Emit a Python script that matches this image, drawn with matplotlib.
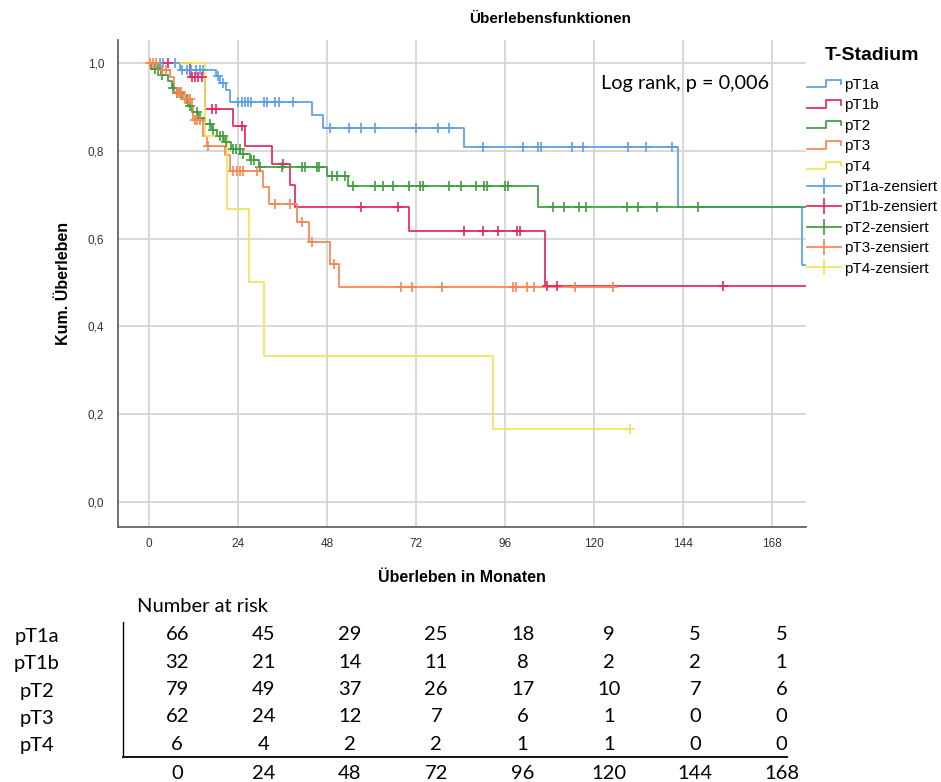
import matplotlib
matplotlib.use("Agg")
import matplotlib.pyplot as plt
from matplotlib.lines import Line2D
from matplotlib.legend_handler import HandlerBase
import numpy as np

# ---------------- survival data (months, cumulative survival) ----------------
groups = ["pT1a", "pT1b", "pT2", "pT3", "pT4"]
colors = ["#5b9ee8", "#e2285f", "#3f9d3f", "#fa8450", "#eee45a"]

pT1a_event_t = [8.3, 18.1, 19.2, 20.8, 21.8, 43.9, 47.0, 85.0, 142.7, 176.0]
pT1a_event_s = [0.985, 0.970, 0.954, 0.938, 0.910, 0.882, 0.851, 0.808, 0.673, 0.539]
pT1a_cens_t = [2.9, 3.8, 7.1, 8.8, 10.3, 11.2, 12.7, 13.8, 14.6, 18.7, 20.0,
               24.1, 25.0, 25.9, 26.8, 27.6, 31.0, 31.9, 34.0, 34.9, 38.9, 48.8,
               54.0, 57.1, 61.0, 72.0, 78.0, 81.0, 90.0, 100.9, 105.0, 105.6,
               114.0, 117.0, 129.1, 134.0, 141.1]
pT1a_end = 182.0

pT1b_event_t = [11.1, 15.1, 22.7, 25.9, 33.1, 38.0, 39.4, 70.1, 106.8]
pT1b_event_s = [0.969, 0.895, 0.857, 0.812, 0.770, 0.721, 0.673, 0.617, 0.493]
pT1b_cens_t = [5.2, 11.6, 12.4, 13.3, 14.3, 16.9, 18.1, 25.0, 36.1, 57.1, 67.0,
               85.0, 90.0, 94.0, 99.2, 100.1, 107.2, 110.0, 154.9]
pT1b_end = 182.0

pT2_event_t = [0.4, 3.2, 5.0, 6.2, 7.4, 8.8, 10.4, 11.6, 13.2, 15.0, 17.0, 18.4,
               20.2, 22.0, 24.6, 27.2, 29.6, 47.9, 53.7, 105.0]
pT2_event_s = [0.986, 0.972, 0.958, 0.944, 0.931, 0.917, 0.903, 0.889, 0.875,
               0.861, 0.847, 0.833, 0.819, 0.805, 0.792, 0.778, 0.764, 0.743,
               0.719, 0.673]
pT2_cens_t = [1.5, 2.4, 3.4, 6.5, 7.6, 8.3, 10.1, 11.0, 12.8, 13.7, 16.4, 17.3,
              19.1, 20.0, 20.8, 22.7, 23.5, 24.5, 25.4, 27.6, 28.3, 29.9, 35.8,
              41.2, 42.1, 45.2, 45.9, 49.2, 50.8, 52.9, 55.1, 61.0, 63.0, 65.9,
              70.1, 73.1, 74.0, 81.0, 84.1, 88.1, 90.3, 91.1, 96.0, 96.9, 108.9,
              112.0, 116.0, 117.8, 128.8, 132.0, 136.9, 148.0]
pT2_end = 182.0

pT3_event_t = [3.0, 5.7, 6.7, 9.2, 11.5, 11.9, 14.6, 15.5, 20.5, 21.8, 30.8,
               32.2, 39.8, 43.0, 48.8, 51.1]
pT3_event_s = [0.984, 0.967, 0.934, 0.918, 0.900, 0.870, 0.834, 0.812, 0.790,
               0.755, 0.717, 0.679, 0.637, 0.592, 0.542, 0.489]
pT3_cens_t = [0.3, 1.0, 1.8, 3.6, 4.6, 7.4, 8.0, 8.6, 9.8, 10.4, 11.0, 12.4,
              13.0, 13.7, 15.8, 22.7, 23.7, 24.5, 25.4, 29.0, 34.0, 38.0, 41.2,
              43.9, 49.9, 68.0, 70.8, 79.1, 98.1, 98.9, 101.9, 103.8, 114.9,
              125.0]
pT3_end = 125.0

pT4_event_t = [15.2, 21.0, 27.0, 31.0, 92.8]
pT4_event_s = [0.833, 0.667, 0.500, 0.333, 0.167]
pT4_cens_t = [129.7]
pT4_end = 129.7

# ---------------- number at risk ----------------
risk_times = [0, 24, 48, 72, 96, 120, 144, 168]
risk_pT1a = [66, 45, 29, 25, 18, 9, 5, 5]
risk_pT1b = [32, 21, 14, 11, 8, 2, 2, 1]
risk_pT2 = [79, 49, 37, 26, 17, 10, 7, 6]
risk_pT3 = [62, 24, 12, 7, 6, 1, 0, 0]
risk_pT4 = [6, 4, 2, 2, 1, 1, 0, 0]

x_ticks = [0, 24, 48, 72, 96, 120, 144, 168]
y_ticks = [0.0, 0.2, 0.4, 0.6, 0.8, 1.0]

# ---------------- figure ----------------
W, H = 941, 782
plt.rcParams["font.family"] = ["Liberation Sans", "DejaVu Sans"]
fig = plt.figure(figsize=(W / 100, H / 100), dpi=100)


def fx(px):
    return px / W


def fy(py):
    return 1 - py / H


ax = fig.add_axes([fx(118), fy(527), (806 - 118) / W, (527 - 40) / H])
ax.set_xlim(-8.4, 177.2)
ax.set_ylim(-0.0569, 1.0523)

series = [
    (pT1a_event_t, pT1a_event_s, pT1a_cens_t, pT1a_end),
    (pT1b_event_t, pT1b_event_s, pT1b_cens_t, pT1b_end),
    (pT2_event_t, pT2_event_s, pT2_cens_t, pT2_end),
    (pT3_event_t, pT3_event_s, pT3_cens_t, pT3_end),
    (pT4_event_t, pT4_event_s, pT4_cens_t, pT4_end),
]

lw = 1.25
for (et, es, ct, end), col in zip(series, colors):
    t = [0.0] + list(et) + [end]
    s = [1.0] + list(es) + [es[-1]]
    ax.step(t, s, where="post", color=col, lw=lw, zorder=3)
    et_arr = np.asarray(et)
    es_arr = np.asarray(es)
    idx = np.searchsorted(et_arr, np.asarray(ct), side="right") - 1
    cy = np.where(idx < 0, 1.0, es_arr[np.clip(idx, 0, None)])
    ax.plot(ct, cy, linestyle="none", marker="+", markersize=7.5,
            markeredgewidth=1.2, color=col, zorder=4)

ax.set_xticks(x_ticks)
ax.set_xticklabels([str(v) for v in x_ticks])
ax.set_yticks(y_ticks)
ax.set_yticklabels([f"{v:.1f}".replace(".", ",") for v in y_ticks])
ax.grid(True, color="#d2d2d2", lw=1.2, zorder=0)
ax.set_axisbelow(True)
for sp in ("top", "right"):
    ax.spines[sp].set_visible(False)
for sp in ("left", "bottom"):
    ax.spines[sp].set_color("#666666")
    ax.spines[sp].set_linewidth(1.3)
ax.tick_params(axis="both", length=0, labelsize=8.5, labelcolor="#333333")
ax.tick_params(axis="x", pad=8)
ax.tick_params(axis="y", pad=10)

ax.set_xlabel("Überleben in Monaten", fontsize=11.5, fontweight="bold", labelpad=14)
ax.set_ylabel("Kum. Überleben", fontsize=11.5, fontweight="bold", labelpad=12)

fig.text(fx(550), fy(19), "Überlebensfunktionen", ha="center", va="center",
         fontsize=11, fontweight="bold")
fig.text(fx(601), fy(83), "Log rank, p = 0,006", ha="left", va="center",
         fontsize=14.3, family=["Lato", "Liberation Sans"])


# ---------------- legend ----------------
class StepHandler(HandlerBase):
    def create_artists(self, legend, orig_handle, xdescent, ydescent,
                       width, height, fontsize, trans):
        x0, y0 = -xdescent, -ydescent
        xm = x0 + 0.55 * width
        xs = [x0, xm, xm, x0 + width, x0 + width]
        ys = [y0 + 0.15 * height, y0 + 0.15 * height, y0 + 0.85 * height,
              y0 + 0.85 * height, y0 + 0.45 * height]
        line = Line2D(xs, ys, color=orig_handle.get_color(),
                      lw=orig_handle.get_linewidth())
        line.set_transform(trans)
        return [line]


step_handles = [Line2D([], [], color=c, lw=lw) for c in colors]
cens_handles = [Line2D([], [], color=c, lw=lw, marker="|", markersize=11,
                       markeredgewidth=1.2) for c in colors]
handles = step_handles + cens_handles
labels = groups + [g + "-zensiert" for g in groups]
fig.text(fx(872), fy(56), "T-Stadium", ha="center", va="center",
         fontsize=14, fontweight="bold")
leg = fig.legend(handles, labels, loc="upper left",
                 bbox_to_anchor=(fx(807), fy(78)), frameon=False,
                 handler_map={h: StepHandler() for h in step_handles},
                 fontsize=11, handlelength=2.25, handletextpad=0.15,
                 labelspacing=0.42, borderaxespad=0, borderpad=0)

# ---------------- number-at-risk table ----------------
table_font = ["Lato", "Liberation Sans", "DejaVu Sans"]
tfs = 14.5
tab = fig.add_axes([fx(123), fy(757), (787 - 123) / W, (757 - 622) / H])
tab.set_xlim(-15.07, 169.5)
tab.set_ylim(4.477, -0.477)
tab.patch.set_visible(False)
for sp in ("top", "right"):
    tab.spines[sp].set_visible(False)
tab.spines["left"].set_linewidth(1.0)
tab.spines["bottom"].set_linewidth(1.3)
tab.set_xticks(risk_times)
tab.set_xticklabels([str(v) for v in risk_times], family=table_font, fontsize=tfs)
tab.set_yticks(range(len(groups)))
tab.set_yticklabels(groups, family=table_font, fontsize=tfs, ha="center")
tab.tick_params(axis="both", length=0)
tab.tick_params(axis="x", pad=6)
tab.tick_params(axis="y", pad=62)

risk_rows = [risk_pT1a, risk_pT1b, risk_pT2, risk_pT3, risk_pT4]
for i, row in enumerate(risk_rows):
    for t, n in zip(risk_times, row):
        tab.text(t, i, str(n), ha="center", va="center", family=table_font,
                 fontsize=tfs)

fig.text(fx(137), fy(607), "Number at risk", ha="left", va="center",
         family=table_font, fontsize=tfs)

fig.savefig("out.png", dpi=100)
